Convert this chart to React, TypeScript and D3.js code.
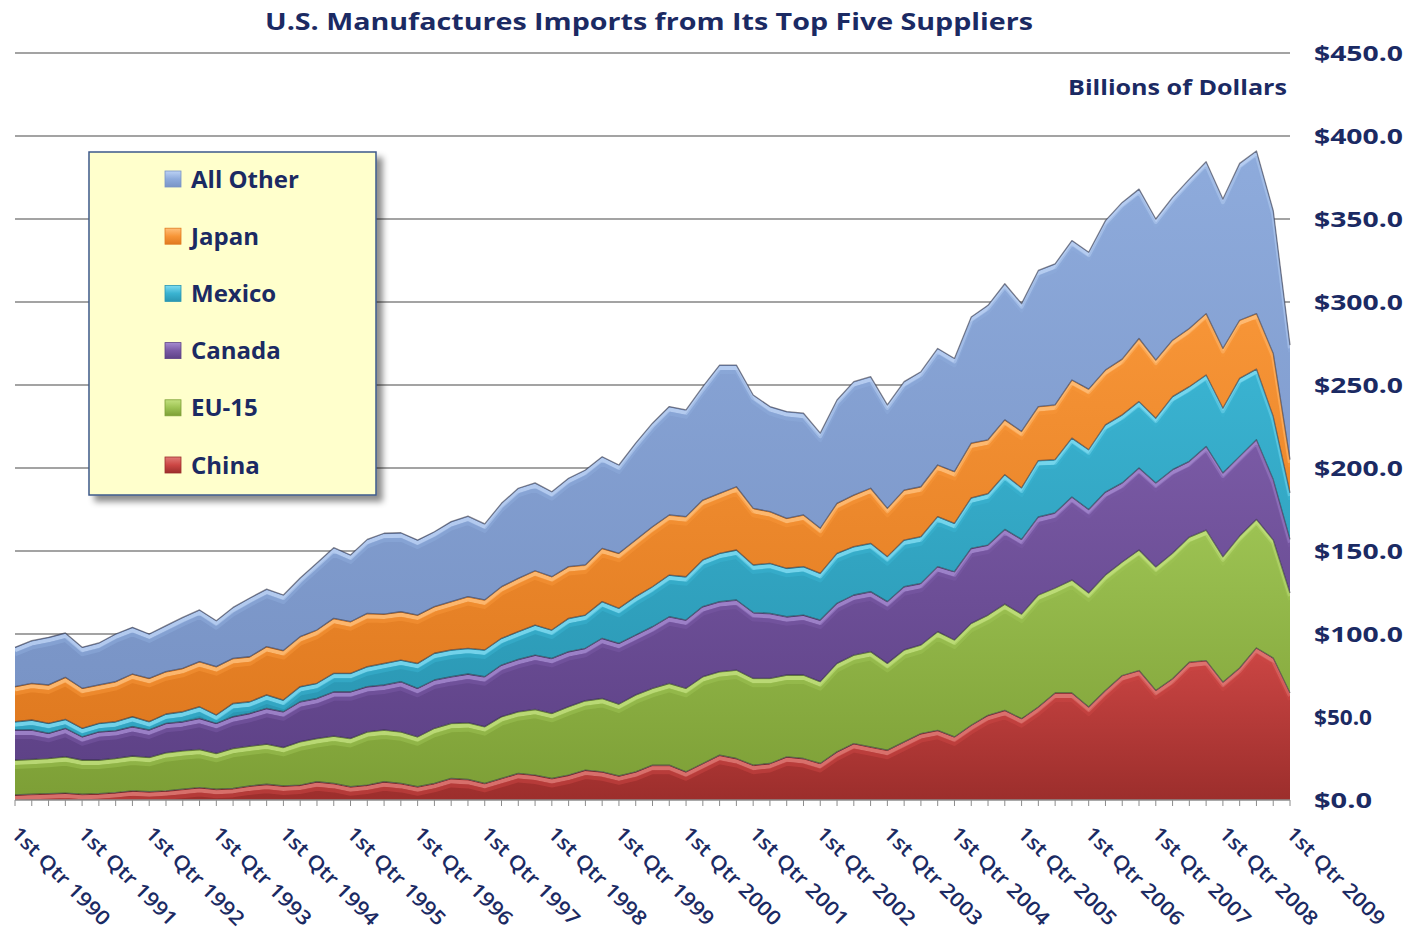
import React from "react";
import * as d3 from "d3";

// ---------- data (billions of dollars, quarterly) ----------
const years = d3.range(1990, 2010);
const qNames = ["1st", "2nd", "3rd", "4th"];
const quarters: string[] = [];
years.forEach((y) => qNames.forEach((q, k) => { if (y < 2009 || k === 0) quarters.push(`${q} Qtr ${y}`); }));

const china = [3.0,3.5,3.8,4.2,3.5,3.8,4.5,5.5,5.0,5.5,6.5,7.5,6.5,7.0,8.5,9.5,8.5,9.0,11.0,10.0,8.0,9.0,11.0,10.0,8.0,10.0,13.0,12.4,10.0,13.0,16.0,15.0,13.0,15.0,18.0,17.0,14.5,17.0,21.0,21.0,17.0,22.0,27.0,25.0,21.0,22.0,26.0,25.0,22.0,29.0,34.0,32.0,30.0,35.0,40.0,42.0,38.0,45.0,51.0,54.0,49.0,56.0,64.5,64.5,56.0,66.0,75.0,78.0,66.0,73.0,83.0,84.0,71.0,79.5,91.6,85.5,64.5];
const eu15 = [21.1,21.0,21.3,21.9,20.6,20.3,20.6,21.0,20.7,23.0,23.2,23.0,21.6,24.1,24.0,24.2,23.2,26.1,26.1,28.5,29.1,32.1,31.2,31.1,30.1,33.2,33.2,34.2,34.2,37.2,37.2,39.6,39.2,41.2,41.8,44.2,43.3,46.3,46.3,49.3,50.3,52.3,50.3,53.3,52.3,51.3,49.3,50.3,49.3,53.3,53.3,57.4,52.3,55.4,53.4,59.4,58.4,61.4,60.4,64.0,63.0,67.5,63.2,68.0,68.7,69.5,68.4,72.6,74.4,75.7,75.4,78.6,75.5,79.5,77.4,71.1,60.2];
const canada = [18.1,17.7,15.1,17.1,14.0,17.0,16.7,17.7,16.5,17.7,17.5,18.7,18.1,19.1,19.7,21.5,21.5,24.1,24.1,26.7,28.1,27.2,27.1,30.2,29.2,29.1,28.1,29.3,30.1,31.1,31.5,32.7,33.1,33.2,31.6,36.2,36.6,36.1,37.1,40.1,41.1,42.2,42.2,42.2,39.6,39.1,35.1,36.1,37.1,36.2,36.2,36.1,37.2,38.1,37.1,39.2,41.1,45.2,42.2,45.0,45.0,47.0,45.3,50.0,50.3,50.0,47.6,49.4,50.6,50.3,45.6,50.4,50.5,48.0,48.0,36.4,32.3];
const mexico = [5.0,6.0,6.0,5.4,5.1,5.1,5.4,6.0,5.0,5.6,6.0,7.0,5.0,8.0,7.0,8.1,7.0,9.1,9.1,11.1,11.1,12.0,13.0,13.0,15.0,16.1,16.1,15.5,16.1,16.1,16.7,18.1,17.1,20.0,20.0,22.1,21.1,23.1,24.1,25.1,26.1,28.1,29.1,30.1,28.7,30.2,29.2,29.2,28.1,30.1,29.1,29.1,27.1,28.1,28.1,30.1,29.2,30.4,30.9,33.0,31.0,34.0,32.0,35.5,36.0,40.5,41.0,40.0,39.0,44.0,45.0,43.0,39.0,47.0,42.6,38.0,28.0];
const japan = [21.1,22.1,23.1,25.3,24.1,23.1,24.1,25.7,26.1,25.5,26.1,27.1,29.1,27.1,27.1,29.1,29.8,30.1,32.1,33.1,31.1,32.1,29.7,29.1,29.1,28.1,29.1,31.1,30.1,31.1,32.1,32.7,32.1,31.2,30.2,32.1,33.1,34.1,36.1,36.2,36.2,36.1,36.1,38.1,34.1,31.1,30.1,31.1,27.2,30.1,31.1,33.2,29.1,30.1,30.1,31.1,31.1,33.0,32.5,33.0,34.0,32.5,33.0,35.0,36.5,33.0,33.6,38.0,35.0,34.0,35.0,37.0,36.0,35.0,33.4,38.0,20.0];
const allOther = [23.7,25.7,28.7,26.7,24.7,25.3,28.7,28.1,26.7,27.7,30.7,31.2,27.7,30.7,35.4,34.6,33.5,35.3,40.4,42.6,40.2,44.6,48.7,47.6,45.2,45.1,48.2,48.5,45.8,50.2,54.3,52.9,51.2,53.2,57.2,55.2,53.2,58.4,62.4,65.3,64.3,68.3,77.3,73.3,68.3,63.3,64.3,61.3,57.3,62.3,68.3,67.2,62.3,65.3,69.3,70.2,68.2,76.0,81.0,82.0,77.0,82.0,85.0,84.0,82.5,90.0,94.4,90.0,85.0,86.0,90.0,91.5,90.0,94.5,98.0,86.0,69.0];

const seriesKeys = ["China", "EU-15", "Canada", "Mexico", "Japan", "All Other"];
const seriesValues = [china, eu15, canada, mexico, japan, allOther];
const legendOrder = ["All Other", "Japan", "Mexico", "Canada", "EU-15", "China"];
const yTicks = [0, 50, 100, 150, 200, 250, 300, 350, 400, 450];

const colors: Record<string, [string, string, string]> = {
  "China": ["#cc4644", "#9c2e2c", "#e07a76"],
  "EU-15": ["#9dc353", "#7d9f36", "#c2e07e"],
  "Canada": ["#7a5aa5", "#5e4287", "#a58ad0"],
  "Mexico": ["#3ab3d1", "#2a96b2", "#7fdcf2"],
  "Japan": ["#f79537", "#e07a20", "#ffc07a"],
  "All Other": ["#8eabdc", "#7994c6", "#bcd2f4"],
};

const NAVY = "#1b2a63";
const FONT = "'Open Sans', 'DejaVu Sans', sans-serif";

export default function App() {
  const W = 1410, H = 927;
  const x = d3.scalePoint<string>().domain(quarters).range([15, 1290]);
  const y = d3.scaleLinear().domain([0, 450]).range([800, 53]);

  const table = quarters.map((q, i) => {
    const row: Record<string, any> = { q };
    seriesKeys.forEach((k, s) => (row[k] = seriesValues[s][i]));
    return row;
  });
  const stacked = d3.stack<any>().keys(seriesKeys)(table);

  const area = d3.area<any>()
    .x((d) => x(d.data.q) as number)
    .y0((d) => y(d[0]))
    .y1((d) => y(d[1]));
  const topLine = d3.line<any>()
    .x((d) => x(d.data.q) as number)
    .y((d) => y(d[1]));

  const idOf = (k: string) => k.replace(/[^A-Za-z0-9]/g, "");

  return (
    <svg width={W} height={H} style={{ position: "absolute", left: 0, top: 0, background: "#fff" }}
      fontFamily={FONT}>
      <defs>
        {seriesKeys.map((k) => (
          <linearGradient key={k} id={`g${idOf(k)}`} x1="0" y1="0" x2="0" y2="1">
            <stop offset="0%" stopColor={colors[k][0]} />
            <stop offset="100%" stopColor={colors[k][1]} />
          </linearGradient>
        ))}
        {seriesKeys.map((k) => (
          <linearGradient key={k + "m"} id={`m${idOf(k)}`} x1="0" y1="0" x2="0" y2="1">
            <stop offset="0%" stopColor={colors[k][2]} />
            <stop offset="50%" stopColor={colors[k][0]} />
            <stop offset="100%" stopColor={colors[k][1]} />
          </linearGradient>
        ))}
        {stacked.map((s) => (
          <clipPath key={s.key} id={`c${idOf(s.key)}`}>
            <path d={area(s as any) || ""} />
          </clipPath>
        ))}
        <filter id="shadow" x="-10%" y="-10%" width="130%" height="130%">
          <feDropShadow dx="6" dy="6" stdDeviation="3" floodColor="#000" floodOpacity="0.45" />
        </filter>
      </defs>

      {/* title */}
      <text x={649} y={30} textAnchor="middle" fontSize={24} fontWeight="bold" fill={NAVY}
        textLength={768} lengthAdjust="spacingAndGlyphs">
        U.S. Manufactures  Imports from Its Top Five Suppliers
      </text>
      <text x={1287} y={95} textAnchor="end" fontSize={22} fontWeight="bold" fill={NAVY}
        textLength={219} lengthAdjust="spacingAndGlyphs">
        Billions of Dollars
      </text>

      {/* gridlines */}
      {yTicks.filter((t) => t > 0).map((t) => (
        <line key={t} x1={15} x2={1290} y1={y(t)} y2={y(t)} stroke="#a3a3a3" strokeWidth={2} />
      ))}

      {/* areas */}
      {stacked.map((s) => (
        <path key={s.key} d={area(s as any) || ""} fill={`url(#g${idOf(s.key)})`} />
      ))}
      {stacked.map((s) => (
        <g key={s.key + "h"} clipPath={`url(#c${idOf(s.key)})`}>
          <path d={topLine(s as any) || ""} transform="translate(0,3)" fill="none"
            stroke={colors[s.key][2]} strokeOpacity={0.85} strokeWidth={4} strokeLinejoin="round" />
          <path d={topLine(s as any) || ""} transform="translate(0,7)" fill="none"
            stroke={colors[s.key][0]} strokeOpacity={0.5} strokeWidth={4} strokeLinejoin="round" />
        </g>
      ))}
      {stacked.map((s) => (
        <path key={s.key + "l"} d={topLine(s as any) || ""} fill="none"
          stroke="#2a2a3a" strokeOpacity={0.55} strokeWidth={1.3} strokeLinejoin="round" />
      ))}

      {/* x axis */}
      <line x1={15} x2={1290} y1={800} y2={800} stroke="#8c8c8c" strokeWidth={1.5} />
      {quarters.map((q) => (
        <line key={q} x1={x(q)} x2={x(q)} y1={800} y2={806} stroke="#8c8c8c" strokeWidth={1} />
      ))}
      {quarters.filter((q) => q.startsWith("1st")).map((q) => {
        const px = (x(q) as number) - 5;
        const py = 835;
        return (
          <text key={q} x={px} y={py} transform={`rotate(45 ${px} ${py})`} fontSize={20} fill={NAVY}
            fontWeight={600} textLength={130} lengthAdjust="spacingAndGlyphs">
            {q}
          </text>
        );
      })}

      {/* y labels */}
      {yTicks.map((t) => (
        <text key={t} x={1314} y={y(t) + 8} fontSize={22} fontWeight="bold" fill={NAVY}
          textLength={t >= 100 ? 89 : 58} lengthAdjust="spacingAndGlyphs">
          {`$${t.toFixed(1)}`}
        </text>
      ))}

      {/* legend */}
      <rect x={89} y={152} width={287} height={343} fill="#ffffcc" stroke="#3d5a8a" strokeWidth={1.5}
        filter="url(#shadow)" />
      {legendOrder.map((k, i) => {
        const cy = 179 + i * 57.2;
        return (
          <g key={k}>
            <rect x={165} y={cy - 8} width={16} height={16} fill={`url(#m${idOf(k)})`}
              stroke={colors[k][1]} strokeWidth={0.8} />
            <text x={191} y={cy + 8.5} fontSize={24} fontWeight="bold" fill={NAVY}>{k}</text>
          </g>
        );
      })}
    </svg>
  );
}
